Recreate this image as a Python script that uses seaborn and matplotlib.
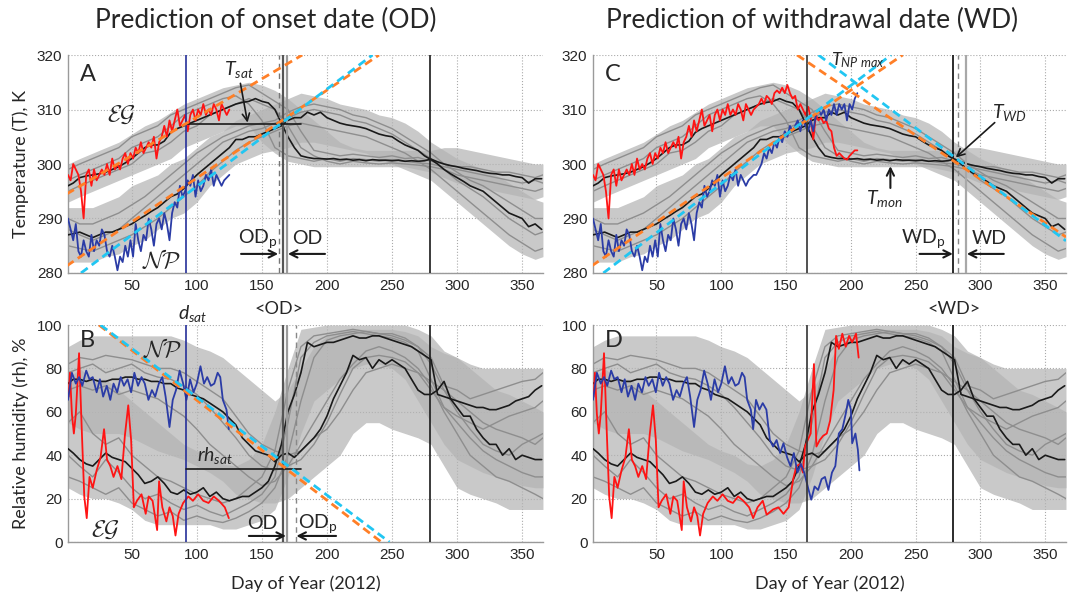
import numpy as np
import matplotlib
matplotlib.use('Agg')
import matplotlib.pyplot as plt
import seaborn as sns

# ---------------- data ----------------
# 5-day grid for the multi-year means (black lines)
DAYS5 = [1] + list(range(5, 366, 5))
EG_T_MEAN = [296, 296.5, 297.5, 297.8, 298, 298.2, 298.5, 299, 299.5, 300.2,
             301, 302, 303, 303.5, 303.5, 304.2, 305.8, 306.5, 307, 307.5,
             308, 308.5, 309, 309.5, 310, 310.5, 311, 311.3, 311.5, 312,
             311.5, 311.2, 310, 307.5, 305, 303, 301.5, 301.2, 301, 301,
             300.9, 301, 300.8, 300.9, 300.7, 300.8, 300.6, 300.8, 300.7, 300.7,
             300.6, 300.7, 300.5, 300.6, 300.5, 300.6, 300.9, 300.4, 300, 299.7,
             299.5, 299.2, 299, 298.8, 298.5, 298.3, 298.2, 298, 298, 297.7,
             297.5, 296.5, 297.3, 297.3]
NP_T_MEAN = [287, 287.2, 287.5, 287, 286.5, 287, 287.5, 287.5, 288, 288.5,
             289, 289.8, 290.5, 291.3, 292, 293, 294, 294.5, 295.5, 296.8,
             298, 299, 300, 301, 302, 303, 304.5, 304.5, 305, 305,
             305.5, 306, 306.5, 307, 308, 308.5, 308.5, 309.5, 309, 309.5,
             308.5, 308, 307.5, 307.2, 307, 306.8, 306.5, 306, 305.5, 305.2,
             305, 304.2, 303.5, 303, 302.5, 301.5, 300.8, 300, 299, 298.2,
             297.5, 296.8, 296, 295.5, 295, 294, 293, 292, 291, 290.5,
             290, 288.5, 289, 288]
EG_RH_MEAN = [43, 41, 38, 36, 35, 38, 41, 39, 38, 37,
              34, 31, 27, 28, 30, 27, 23, 22, 24, 22,
              23, 25, 21, 23, 20, 19, 20, 21, 21, 23,
              25, 28, 35, 45, 60, 68, 78, 92, 90, 91,
              92, 92, 93, 94, 95, 94, 94, 95, 95, 94,
              93, 92, 91, 90, 88, 86, 84, 68, 67, 66,
              65, 64, 63, 62, 62, 61, 61, 62, 63, 65,
              66, 67, 70, 72]
NP_RH_MEAN = [73, 75, 75, 74, 75, 74, 74, 75, 75, 76,
              76, 75, 75, 74, 74, 73, 73, 71, 70, 68,
              67, 66, 64, 62, 60, 57, 54, 48, 45, 42,
              41, 40, 37, 40, 41, 39, 42, 45, 48, 52,
              58, 66, 72, 78, 86, 84, 85, 80, 84, 82,
              84, 82, 80, 75, 70, 68, 68, 70, 74, 66,
              62, 58, 58, 52, 48, 45, 45, 40, 43, 38,
              40, 39, 38, 38]

# 10-day grid for the individual years (grey cloud)
DAYS10 = [1] + list(range(10, 361, 10)) + [366]
EG_T_LO = [293, 294, 295, 296, 297, 298, 299, 300, 301, 303,
           304, 305, 306, 307, 307, 304, 302, 300.5, 300, 299.5,
           299.5, 299.5, 299.5, 299.5, 299.5, 299.5, 299.5, 299, 298.5, 297.5,
           296.5, 296, 295.5, 295, 294.5, 294, 293.5, 294]
EG_T_HI = [300, 301, 302, 303, 304, 305.5, 307, 308, 309.5, 311,
           312, 313, 314, 314.5, 315, 314.5, 313.5, 312, 310, 308,
           306, 304, 303, 302.5, 302.5, 302.5, 302.5, 302.5, 302.5, 303,
           303, 302.5, 302, 301.5, 301, 300.5, 300, 300]
NP_T_LO = [282, 282, 282, 283, 283.5, 285, 286, 288, 290, 291,
           293, 296, 298, 300, 301, 302, 302.5, 303, 304, 304,
           303.5, 303, 302.5, 302, 301, 300, 299, 298, 297, 295,
           293, 291, 289, 287, 285, 283.5, 282.5, 283]
NP_T_HI = [292, 292, 292, 293, 294, 296, 297, 298, 300, 301,
           303, 305, 306, 308, 309, 310, 311, 312, 313, 312.5,
           312, 311, 310.5, 310, 309, 308.5, 307.5, 306, 304, 302.5,
           301, 300, 299, 298, 296.5, 295, 293.5, 293]
EG_RH_LO = [25, 22, 20, 20, 18, 15, 10, 8, 8, 8,
            8, 8, 6, 6, 8, 10, 15, 30, 50, 65,
            70, 75, 80, 82, 82, 80, 75, 65, 55, 45,
            38, 35, 32, 30, 28, 26, 25, 25]
EG_RH_HI = [75, 80, 75, 75, 70, 65, 60, 55, 50, 45,
            42, 40, 36, 35, 38, 45, 60, 80, 98, 99,
            100, 100, 100, 100, 100, 100, 100, 98, 95, 88,
            85, 82, 80, 80, 80, 80, 80, 80]
NP_RH_LO = [55, 52, 50, 50, 50, 48, 45, 42, 40, 38,
            35, 32, 28, 22, 20, 18, 18, 20, 25, 30,
            35, 40, 50, 55, 55, 52, 50, 48, 45, 35,
            25, 22, 20, 18, 15, 15, 15, 15]
NP_RH_HI = [90, 93, 95, 95, 95, 95, 95, 95, 95, 93,
            90, 88, 85, 80, 75, 70, 65, 70, 80, 90,
            95, 97, 98, 98, 98, 98, 97, 95, 90, 87,
            85, 80, 75, 70, 68, 65, 62, 60]

EG_T_YEARS = [
    [297, 298, 299, 300, 301, 303, 304, 305, 307, 309,
     310, 311, 312, 312.5, 311, 308, 303, 301.5, 301, 300.5,
     301, 300.5, 301, 300.8, 300.5, 300.8, 300.5, 300.2, 300, 299.5,
     299, 298.5, 298, 297.5, 297, 296.5, 297, 296.5],
    [299, 300, 301, 302, 303, 305, 306, 307, 309, 310,
     311, 312, 313, 314, 314.5, 313, 311.5, 310, 306, 302.5,
     302, 301.5, 301.8, 301.5, 301.2, 301.5, 301, 301.2, 300.5, 300,
     299.5, 299.5, 299, 298.5, 298.5, 298, 297.5, 298],
    [295, 296, 297, 298, 299, 300, 302, 302.5, 304, 306,
     307, 309, 310, 311, 312, 311, 310, 307, 303, 301.5,
     300.5, 300, 300.5, 300.2, 300, 300.2, 300, 299.8, 299.5, 299,
     298, 297.5, 297, 296.5, 296, 295.5, 295, 295.5],
]
NP_T_YEARS = [
    [288, 287, 286, 287, 288, 290, 292, 294, 296, 298,
     300, 302, 304, 305, 306, 306.5, 307.5, 308.5, 309.5, 310,
     309.5, 309, 308, 307.5, 306.5, 305.5, 304, 302.5, 301, 299,
     297, 295.5, 294, 292, 290, 288.5, 287, 287.5],
    [285, 284.5, 284, 285, 286, 287, 288.5, 290, 292, 294,
     296, 298.5, 300.5, 302.5, 304, 305, 306, 307, 307.5, 307,
     306.5, 306, 305.5, 305, 304, 303, 302, 300.5, 299, 297,
     295, 293, 291, 289, 287, 285.5, 284, 284.5],
    [290, 289, 289, 290, 291, 292.5, 294, 296, 298, 300,
     302, 303.5, 305, 306, 307, 307.5, 308, 309.5, 310.5, 311,
     310.5, 310, 309, 308.5, 307.5, 306.5, 305, 303.5, 302, 300,
     298.5, 297, 296, 294.5, 293, 291.5, 290, 290],
]
EG_RH_YEARS = [
    [40, 35, 30, 38, 32, 25, 20, 22, 18, 15,
     17, 14, 12, 15, 18, 22, 30, 55, 85, 92,
     95, 96, 97, 96, 95, 94, 92, 88, 75, 62,
     58, 55, 52, 55, 58, 60, 62, 65],
    [30, 28, 25, 22, 25, 18, 15, 12, 14, 10,
     12, 10, 9, 11, 14, 18, 25, 40, 65, 85,
     93, 95, 96, 97, 96, 95, 93, 90, 82, 70,
     60, 52, 45, 42, 40, 45, 48, 50],
    [55, 60, 50, 45, 48, 40, 35, 30, 28, 25,
     22, 20, 18, 20, 25, 30, 42, 70, 90, 95,
     96, 97, 98, 97, 96, 96, 94, 90, 85, 72,
     70, 66, 68, 70, 72, 74, 75, 78],
]
NP_RH_YEARS = [
    [78, 80, 82, 78, 80, 82, 78, 76, 75, 72,
     68, 62, 55, 48, 40, 35, 33, 35, 38, 45,
     55, 68, 80, 85, 86, 85, 83, 78, 70, 62,
     55, 48, 42, 38, 35, 32, 30, 30],
    [70, 72, 70, 72, 68, 70, 68, 66, 62, 58,
     52, 45, 40, 35, 30, 26, 28, 35, 45, 55,
     65, 75, 82, 88, 90, 88, 85, 80, 72, 60,
     50, 40, 35, 30, 28, 25, 22, 20],
    [82, 85, 84, 86, 85, 84, 82, 80, 80, 78,
     74, 70, 66, 58, 50, 45, 42, 40, 42, 48,
     52, 60, 70, 78, 80, 82, 80, 78, 74, 70,
     65, 60, 55, 52, 50, 48, 45, 48],
]

# 2012 series (2-day grid for temperature)
DAYS2 = list(range(1, 206, 2))
RED_T = [298, 297, 300, 299, 298, 295, 290, 298, 299, 296,
         299, 297, 298, 299, 298, 300, 298, 301, 299, 300,
         299, 301, 302, 300, 302, 301, 303, 302, 304, 302,
         303, 304, 303, 305, 301, 304, 305, 307, 305, 308,
         306, 308, 310, 307, 308, 309, 306, 309, 310, 308,
         310, 309, 311, 309, 310, 309, 311, 310, 308, 311,
         310, 309, 310, 310.5, 311, 312, 311, 312.5, 312, 311,
         313, 313.5, 313, 314, 313, 314.5, 313, 312, 312.5, 310,
         311, 310, 309, 310.5, 308.5, 304.5, 309, 308, 308.5, 307.5,
         308, 306.5, 306, 303, 301.5, 302, 301.5, 301, 300.8, 301.5,
         302, 302.5, 302.5]
BLUE_T = [290, 288, 286, 289, 284, 283, 286, 284, 283, 287,
          284, 286, 285, 288, 287, 284, 283, 285, 283, 280.5,
          283, 282, 285, 283, 286, 283, 289, 286, 284, 287,
          286, 290, 288, 285, 289, 290, 288, 291, 289, 286,
          291, 293, 292, 296, 294, 295, 297, 296, 298, 294,
          297, 295, 296, 298, 297, 299, 296, 298, 297, 296,
          297, 297.5, 298, 298, 299, 300, 302, 301, 303, 302,
          304, 303, 305, 304, 306, 305, 307, 306, 307, 308,
          306, 308, 307, 306, 308, 306, 309, 310, 309, 310,
          308, 310, 309, 311, 309, 311, 310, 311, 308, 311,
          310, 312, 313]
RED_RH_DAYS = [1.5, 2.5, 4, 5.5, 7, 9.5, 11.5, 13.5, 15.4, 17.5,
               20, 23, 26, 28.7, 31, 33.5, 36, 39, 42, 44.7,
               47.3, 49.5, 51.6, 54, 57.5, 60.7, 63, 66, 69.5, 71,
               73.5, 76.6, 79, 81.5, 83.6, 86, 89.5, 93.5, 97, 101,
               105, 109, 113, 117, 121.5, 124.6, 128, 132, 135, 140,
               144, 148, 152, 155.5, 158, 161, 163, 164.6, 166.7, 169,
               171.5, 173.4, 176, 178.7, 181.4, 184, 186.7, 188.6, 190.7, 193.4,
               196, 198.6, 201, 204, 206]
RED_RH = [67, 78, 59, 50, 59, 87, 53, 21, 11, 30,
          25, 33, 39, 52, 38, 35, 30, 35, 29, 49,
          63, 47, 16, 19, 22, 13, 21, 19, 5.5, 28,
          16, 9.5, 16, 12, 3, 13, 18, 21, 19, 22,
          19, 18, 21, 19, 16, 11, 16, 19, 12.6, 15,
          16, 13, 16, 29, 35, 36, 32, 44, 47, 50,
          82, 44, 47, 49, 50, 56, 70, 95, 89, 96,
          90, 95, 92, 96, 85]
BLUE_RH_DAYS = [1, 4, 7, 9.5, 12, 15, 17.5, 20, 23, 25.5,
                28, 30.8, 33.5, 36, 38.8, 41.5, 44, 46.8, 49.5, 52,
                54.8, 57.5, 60, 62.8, 65.5, 68, 70.8, 73.5, 76, 79,
                81.5, 84, 86.8, 89.5, 92, 94.8, 97.5, 100, 102.8, 105.5,
                108, 110.8, 113.4, 116, 118, 120, 122.8, 124.6, 126.8, 129.4,
                132, 134.8, 137.5, 140, 142.7, 145.4, 148, 150.8, 153.4, 156,
                158.8, 161.4, 164, 166.7, 169.4, 172, 174.7, 177.4, 180, 182.7,
                185.4, 188, 190.7, 193.4, 196, 198, 200, 201, 203.5, 205.4,
                206.6]
BLUE_RH = [65.5, 78, 73, 76, 72, 79, 75, 76, 69, 75,
           67, 72, 65.5, 73, 69, 76, 72, 75, 69, 78,
           72, 76, 73, 65.5, 70, 67, 73, 76, 67, 53,
           65.5, 70, 79, 73, 65.5, 75, 69, 73, 81, 73,
           76, 72, 73, 78, 76, 65.5, 61, 52, 65.5, 61,
           64, 61, 47, 44, 47, 41, 45.5, 39, 35, 41,
           32, 36, 32, 25.6, 19.5, 25.6, 24, 29, 30, 24,
           32, 35, 50, 52, 59, 65.5, 61, 45.5, 50, 42.5,
           33]

# fitted (dashed) lines: start / end points (day, value)
FIT_A_EG_ORANGE = ([0, 181], [294.5, 320])
FIT_NP_ORANGE_UP = ([0, 240], [281.3, 320])
FIT_A_NP_CYAN = ([11, 235], [280, 320])
FIT_C_NP_CYAN = ([9, 231], [280, 320])
FIT_C_ORANGE_DOWN = ([158.5, 366], [320, 286.6])
FIT_C_CYAN_DOWN = ([175, 366], [320, 285.9])
FIT_B_ORANGE = ([24.8, 241.8], [100, 0])
FIT_B_CYAN = ([26, 248], [100, 0])

D_SAT, T_SAT, RH_SAT = 92, 307.3, 33.5
OD_P_A, OD_MEAN, OD = 163, 166, 169
OD_P_B = 176
WD, WD_P, WD_MEAN = 279, 283, 288.5
FIRST_CUT = 125

XTICKS = [50, 100, 150, 200, 250, 300, 350]
T_TICKS = [280, 290, 300, 310, 320]
RH_TICKS = [0, 20, 40, 60, 80, 100]

# ---------------- style ----------------
sns.set_theme(style='white')
plt.rcParams['font.family'] = ['Lato', 'DejaVu Sans']
plt.rcParams['mathtext.fontset'] = 'custom'
plt.rcParams['mathtext.rm'] = 'Lato'
plt.rcParams['mathtext.it'] = 'Lato:italic'
plt.rcParams['mathtext.bf'] = 'Lato:bold'

GREY_FILL = '#b4b4b4'
GREY_LINE = '#8e8e8e'
RED = '#ff1414'
BLUE = '#2b3ca6'
NAVY = '#26309a'
ORANGE = '#ff7f27'
CYAN = '#21c6f2'

fig = plt.figure(figsize=(10.76, 5.98), dpi=100)
axA = fig.add_axes([0.0632, 0.5435, 0.4414, 0.3645])
axB = fig.add_axes([0.0632, 0.0936, 0.4414, 0.3629])
axC = fig.add_axes([0.5511, 0.5435, 0.4396, 0.3645])
axD = fig.add_axes([0.5511, 0.0936, 0.4396, 0.3629])


def style(ax, ylim, yticks):
    ax.set_xlim(1, 366)
    ax.set_ylim(*ylim)
    ax.set_xticks(XTICKS)
    ax.set_yticks(yticks)
    ax.grid(True, ls=':', color='#aaaaaa', lw=0.8)
    ax.set_axisbelow(True)
    for s in ['top', 'right']:
        ax.spines[s].set_visible(False)
    for s in ['left', 'bottom']:
        ax.spines[s].set_color('#9a9a9a')
        ax.spines[s].set_linewidth(1.0)
    ax.tick_params(length=0, labelsize=11, pad=4)
    for lab in ax.get_xticklabels() + ax.get_yticklabels():
        lab.set_family('Liberation Sans')


def cloud(ax, lo_hi_list, years_list):
    for lo, hi in lo_hi_list:
        ax.fill_between(DAYS10, lo, hi, color=GREY_FILL, alpha=0.72, lw=0, zorder=1)
    for years in years_list:
        for y in years:
            sns.lineplot(x=DAYS10, y=y, ax=ax, color=GREY_LINE, lw=1.0, zorder=2)


def series(ax, x, y, color, cut=None, lw=1.3, z=4):
    x = np.asarray(x, float)
    y = np.asarray(y, float)
    if cut is not None:
        m = x <= cut
        x, y = x[m], y[m]
    sns.lineplot(x=x, y=y, ax=ax, color=color, lw=lw, zorder=z)


def fit(ax, pts, color):
    sns.lineplot(x=pts[0], y=pts[1], ax=ax, color=color, lw=2.0,
                 dashes=False, zorder=6).lines[-1].set_dashes([3, 1.8])


def arrow(ax, tail, tip, lw=1.5):
    ax.annotate('', xy=tip, xytext=tail,
                arrowprops=dict(arrowstyle='->', lw=lw, color='k',
                                shrinkA=0, shrinkB=0, mutation_scale=13),
                zorder=8)


CAL = dict(math_fontfamily='cm', fontsize=17, ha='center', va='center', zorder=9)

# ---------- Panel A ----------
ax = axA
style(ax, (280, 320), T_TICKS)
cloud(ax, [(EG_T_LO, EG_T_HI), (NP_T_LO, NP_T_HI)], [EG_T_YEARS, NP_T_YEARS])
series(ax, DAYS5, EG_T_MEAN, 'k', lw=1.2, z=3)
series(ax, DAYS5, NP_T_MEAN, 'k', lw=1.2, z=3)
series(ax, DAYS2, RED_T, RED, cut=FIRST_CUT)
series(ax, DAYS2, BLUE_T, BLUE, cut=FIRST_CUT)
ax.axvline(D_SAT, color=NAVY, lw=1.2, zorder=5)
ax.axvline(WD, color='k', lw=1.2, zorder=5)
ax.axvline(OD_P_A, color='#777777', lw=1.0, ls=(0, (4, 3)), zorder=5)
ax.axvline(OD_MEAN, color='#555555', lw=1.6, zorder=5)
ax.axvline(OD, color='#9a9a9a', lw=1.6, zorder=5)
ax.plot([D_SAT, 180], [T_SAT, T_SAT], color='k', lw=1.2, zorder=5)
fit(ax, FIT_A_EG_ORANGE, ORANGE)
fit(ax, FIT_NP_ORANGE_UP, ORANGE)
fit(ax, FIT_A_NP_CYAN, CYAN)
ax.text(10, 316.5, 'A', fontsize=17, va='center', ha='left')
ax.text(132, 317.3, r'$T_{sat}$', fontsize=14, ha='center', va='center')
arrow(ax, (133.5, 314.8), (139, 307.6), lw=1.2)
ax.text(42, 309, r'$\mathcal{EG}$', **CAL)
ax.text(73, 282.3, r'$\mathcal{NP}$', **CAL)
ax.text(147, 286.4, r'OD$_\mathrm{p}$', fontsize=14, ha='center', va='center')
ax.text(185, 286.4, 'OD', fontsize=14, ha='center', va='center')
arrow(ax, (134, 283.5), (OD_P_A - 0.5, 283.5))
arrow(ax, (198.5, 283.5), (OD + 1, 283.5))
ax.set_ylabel('Temperature (T), K', fontsize=13, labelpad=6)
ax.set_xlabel('')

# ---------- Panel B ----------
ax = axB
style(ax, (0, 100), RH_TICKS)
cloud(ax, [(EG_RH_LO, EG_RH_HI), (NP_RH_LO, NP_RH_HI)], [EG_RH_YEARS, NP_RH_YEARS])
series(ax, DAYS5, EG_RH_MEAN, 'k', lw=1.2, z=3)
series(ax, DAYS5, NP_RH_MEAN, 'k', lw=1.2, z=3)
series(ax, RED_RH_DAYS, RED_RH, RED, cut=FIRST_CUT)
series(ax, BLUE_RH_DAYS, BLUE_RH, BLUE, cut=FIRST_CUT)
ax.axvline(D_SAT, color=NAVY, lw=1.2, zorder=5)
ax.axvline(WD, color='k', lw=1.2, zorder=5)
ax.axvline(OD_MEAN, color='#555555', lw=1.6, zorder=5)
ax.axvline(OD, color='#9a9a9a', lw=1.6, zorder=5)
ax.axvline(OD_P_B, color='#888888', lw=1.0, ls=(0, (4, 3)), zorder=5)
ax.plot([D_SAT, 180], [RH_SAT, RH_SAT], color='k', lw=1.2, zorder=5)
fit(ax, FIT_B_ORANGE, ORANGE)
fit(ax, FIT_B_CYAN, CYAN)
ax.text(10, 93, 'B', fontsize=17, va='center', ha='left')
ax.text(74, 89, r'$\mathcal{NP}$', **CAL)
ax.text(30, 5.5, r'$\mathcal{EG}$', **CAL)
ax.text(114, 40, r'$rh_{sat}$', fontsize=14, ha='center', va='center')
ax.text(97, 105.5, r'$d_{sat}$', fontsize=14, ha='center', va='center', clip_on=False)
ax.text(163, 107.5, '<OD>', fontsize=13, ha='center', va='center', clip_on=False)
ax.text(150, 8.5, 'OD', fontsize=14, ha='center', va='center')
ax.text(193, 8.5, r'OD$_\mathrm{p}$', fontsize=14, ha='center', va='center')
arrow(ax, (140, 2.8), (OD - 0.5, 2.8))
arrow(ax, (207, 2.8), (OD_P_B + 0.5, 2.8))
ax.set_ylabel('Relative humidity (rh), %', fontsize=13, labelpad=6)
ax.set_xlabel('Day of Year (2012)', fontsize=13, labelpad=10)

# ---------- Panel C ----------
ax = axC
style(ax, (280, 320), T_TICKS)
cloud(ax, [(EG_T_LO, EG_T_HI), (NP_T_LO, NP_T_HI)], [EG_T_YEARS, NP_T_YEARS])
series(ax, DAYS5, EG_T_MEAN, 'k', lw=1.2, z=3)
series(ax, DAYS5, NP_T_MEAN, 'k', lw=1.2, z=3)
series(ax, DAYS2, RED_T, RED)
series(ax, DAYS2, BLUE_T, BLUE)
ax.axvline(OD_MEAN, color='#333333', lw=1.2, zorder=5)
ax.axvline(WD, color='k', lw=1.3, zorder=5)
ax.axvline(WD_P, color='#888888', lw=1.0, ls=(0, (4, 3)), zorder=5)
ax.axvline(WD_MEAN, color='#a8a8a8', lw=1.6, zorder=5)
fit(ax, FIT_NP_ORANGE_UP, ORANGE)
fit(ax, FIT_C_NP_CYAN, CYAN)
fit(ax, FIT_C_ORANGE_DOWN, ORANGE)
fit(ax, FIT_C_CYAN_DOWN, CYAN)
ax.text(10, 316.5, 'C', fontsize=17, va='center', ha='left')
ax.text(205, 319, r'$T_{NP\ max}$', fontsize=13, ha='center', va='center', zorder=9)
ax.text(322, 309.5, r'$T_{WD}$', fontsize=14, ha='center', va='center', zorder=9)
arrow(ax, (311, 307.6), (281, 301.2), lw=1.2)
ax.text(226, 293.7, r'$T_{mon}$', fontsize=14, ha='center', va='center', zorder=9)
arrow(ax, (230.5, 295.6), (230.5, 299.6), lw=1.5)
ax.text(256, 286.4, r'WD$_\mathrm{p}$', fontsize=14, ha='center', va='center')
ax.text(307, 286.4, 'WD', fontsize=14, ha='center', va='center')
arrow(ax, (253, 283.5), (WD - 0.3, 283.5))
arrow(ax, (318, 283.5), (WD_MEAN + 1, 283.5))
ax.set_ylabel('')
ax.set_xlabel('')

# ---------- Panel D ----------
ax = axD
style(ax, (0, 100), RH_TICKS)
cloud(ax, [(EG_RH_LO, EG_RH_HI), (NP_RH_LO, NP_RH_HI)], [EG_RH_YEARS, NP_RH_YEARS])
series(ax, DAYS5, EG_RH_MEAN, 'k', lw=1.2, z=3)
series(ax, DAYS5, NP_RH_MEAN, 'k', lw=1.2, z=3)
series(ax, RED_RH_DAYS, RED_RH, RED)
series(ax, BLUE_RH_DAYS, BLUE_RH, BLUE)
ax.axvline(OD_MEAN, color='#333333', lw=1.2, zorder=5)
ax.axvline(WD, color='k', lw=1.3, zorder=5)
ax.text(10, 93, 'D', fontsize=17, va='center', ha='left')
ax.text(280, 107.5, '<WD>', fontsize=13, ha='center', va='center', clip_on=False)
ax.set_ylabel('')
ax.set_xlabel('Day of Year (2012)', fontsize=13, labelpad=10)

fig.text(0.2467, 0.9666, 'Prediction of onset date (OD)', fontsize=19, ha='center', va='center')
fig.text(0.7546, 0.9666, 'Prediction of withdrawal date (WD)', fontsize=19, ha='center', va='center')

fig.savefig('out.png', dpi=100)
